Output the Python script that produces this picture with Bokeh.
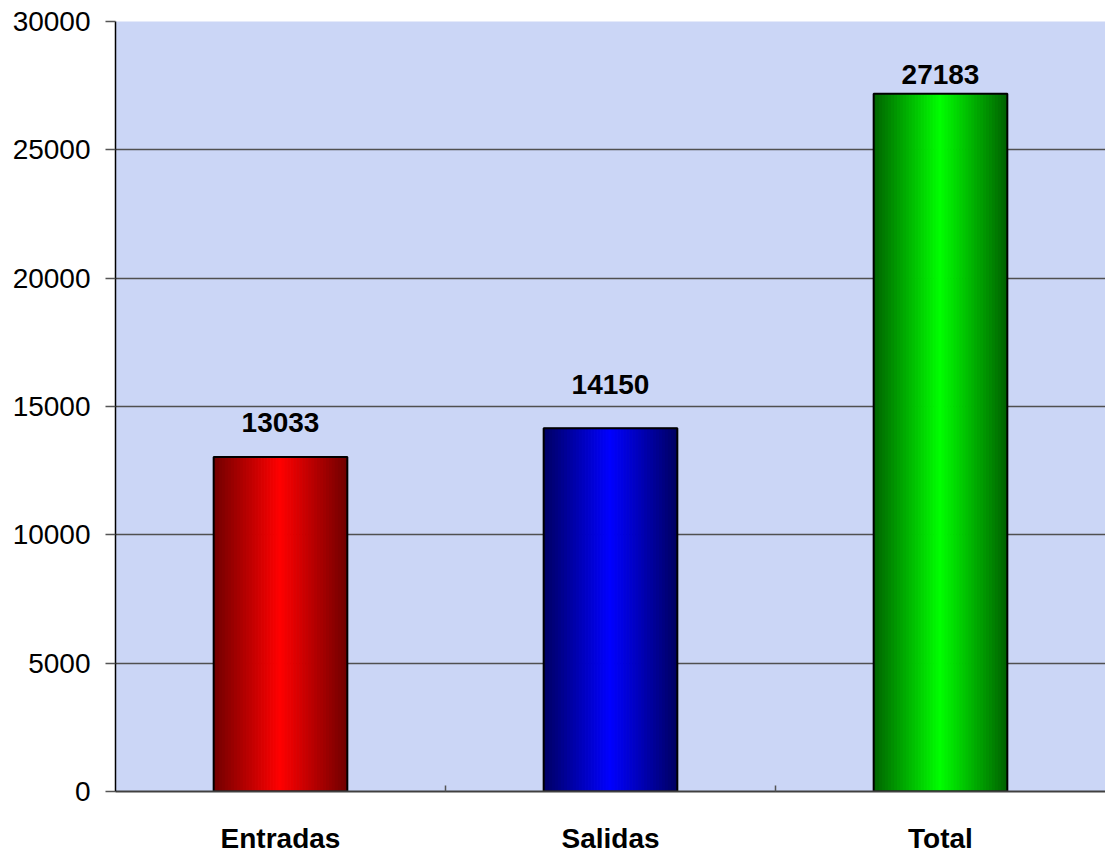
from bokeh.plotting import figure
from bokeh.models import FixedTicker, Range1d, ColumnDataSource
from bokeh.embed import file_html
from bokeh.resources import INLINE
from bokeh.core.properties import value

# ---- data ----
categories = ["Entradas", "Salidas", "Total"]
values = [13033, 14150, 27183]
y_ticks = [0, 5000, 10000, 15000, 20000, 25000, 30000]

# ---- style ----
label_offsets = [-34, -44, -19]          # px above bar top for value labels
edge_colors = [(112, 0, 0), (0, 0, 98), (0, 98, 0)]
center_colors = [(255, 0, 0), (0, 0, 255), (0, 255, 0)]
BAR_W = 0.405
N_STRIPES = 45
FONT = "Liberation Sans"

n = len(categories)
centers = [i + 0.5 for i in range(n)]

p = figure(width=1105, height=856, output_backend="svg", toolbar_location=None,
           x_range=Range1d(0, n), y_range=Range1d(0, 30000),
           min_border_left=115, min_border_right=0, min_border_top=21,
           min_border_bottom=64)
p.background_fill_color = "#cbd6f6"
p.border_fill_color = "white"
p.outline_line_color = None

# gradient bars made of thin vertical stripes
L, R, T, C = [], [], [], []
for i, (c, v) in enumerate(zip(centers, values)):
    e, m = edge_colors[i], center_colors[i]
    sw = BAR_W / N_STRIPES
    for j in range(N_STRIPES):
        left = c - BAR_W / 2 + j * sw
        t = abs((j + 0.5) / N_STRIPES * 2 - 1)  # 0 center, 1 edge
        col = tuple(int(round(m[k] + (e[k] - m[k]) * t)) for k in range(3))
        L.append(left)
        R.append(left + sw)
        T.append(v)
        C.append("#%02x%02x%02x" % col)
stripes = ColumnDataSource(dict(left=L, right=R, top=T, color=C))
p.quad(left="left", right="right", bottom=0, top="top", source=stripes,
       fill_color="color", line_color="color", line_width=1)

src = ColumnDataSource(dict(x=centers, top=values, label=[str(v) for v in values],
                            off=label_offsets))
p.vbar(x="x", width=BAR_W, top="top", bottom=0, source=src,
       fill_color=None, line_color="black", line_width=2)

p.text(x="x", y="top", text="label", source=src, y_offset="off",
       text_align="center", text_baseline="alphabetic",
       text_font=value(FONT), text_font_style="bold", text_font_size="28px",
       text_color="black")

# axes
p.xgrid.grid_line_color = None
p.ygrid.grid_line_color = "#505050"
p.ygrid.grid_line_width = 1.5
p.ygrid.ticker = FixedTicker(ticks=y_ticks)

yax = p.yaxis[0]
yax.ticker = FixedTicker(ticks=y_ticks)
yax.axis_line_color = "black"
yax.axis_line_width = 1.5
yax.major_tick_in = 0
yax.major_tick_out = 10
yax.major_tick_line_color = "#555555"
yax.major_tick_line_width = 1.5
yax.minor_tick_line_color = None
yax.major_label_standoff = 15
yax.major_label_text_font = FONT
yax.major_label_text_font_size = "28px"
yax.major_label_text_color = "black"

xax = p.xaxis[0]
xax.ticker = FixedTicker(ticks=centers, minor_ticks=[i for i in range(1, n)])
xax.major_label_overrides = {c: lab for c, lab in zip(centers, categories)}
xax.major_tick_line_color = None
xax.major_tick_in = 0
xax.major_tick_out = 0
xax.minor_tick_in = 6
xax.minor_tick_out = 0
xax.minor_tick_line_color = "#555555"
xax.minor_tick_line_width = 1.5
xax.axis_line_color = "#404040"
xax.axis_line_width = 2
xax.major_label_standoff = 31
xax.major_label_text_font = FONT
xax.major_label_text_font_style = "bold"
xax.major_label_text_font_size = "28px"
xax.major_label_text_color = "black"

open("out.html", "w").write(file_html(p, INLINE))
